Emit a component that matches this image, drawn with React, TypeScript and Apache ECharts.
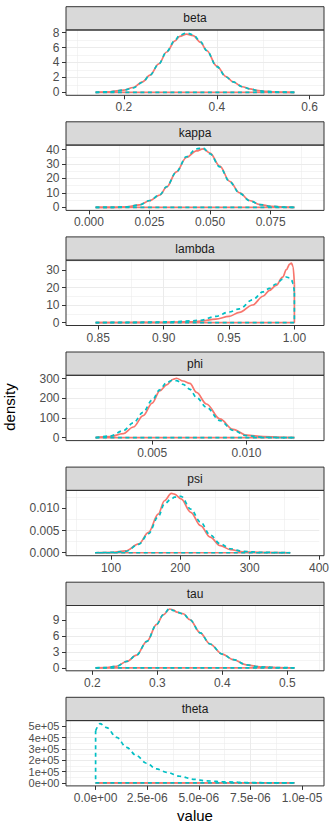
import React, { useEffect, useRef } from "react";
import * as echarts from "echarts";

// ---------- data ----------
const panelNames = ["beta", "kappa", "lambda", "phi", "psi", "tau", "theta"];

const betaX = [0.139, 0.17, 0.2, 0.22, 0.24, 0.256, 0.275, 0.292, 0.31, 0.32, 0.335, 0.349, 0.365, 0.378, 0.4, 0.42, 0.435, 0.455, 0.471, 0.49, 0.507, 0.53, 0.567];
const betaRed = [0, 0.08, 0.3, 0.65, 1.4, 2.3, 3.8, 5.4, 6.9, 7.5, 7.8, 7.6, 6.7, 5.6, 3.5, 2.1, 1.4, 0.75, 0.45, 0.22, 0.12, 0.04, 0];
const betaCyan = [0, 0.08, 0.3, 0.6, 1.35, 2.3, 3.8, 5.45, 7.0, 7.65, 7.95, 7.7, 6.8, 5.6, 3.45, 2.05, 1.4, 0.75, 0.45, 0.22, 0.12, 0.04, 0];

const kappaX = [0.00275, 0.01, 0.0155, 0.021, 0.025, 0.0293, 0.032, 0.0361, 0.0402, 0.0444, 0.0471, 0.05, 0.054, 0.0581, 0.0622, 0.0663, 0.0705, 0.0751, 0.08, 0.0848];
const kappaRed = [0, 0.1, 0.45, 1.8, 4.6, 8.6, 14, 24.5, 34.5, 39, 40.5, 37.5, 28.5, 18, 10, 4.8, 2, 0.8, 0.2, 0];
const kappaCyan = [0, 0.1, 0.45, 1.8, 4.8, 8.8, 14.3, 24.5, 35, 40.5, 41, 37, 28, 17.7, 9.8, 4.7, 2, 0.8, 0.2, 0];

const lambdaX = [0.848, 0.87, 0.89, 0.907, 0.92, 0.928, 0.94, 0.95, 0.958, 0.968, 0.976, 0.981, 0.986, 0.991, 0.9939, 0.9964, 0.9977, 0.999, 1.0];
const lambdaRed = [0, 0.02, 0.08, 0.2, 0.45, 0.75, 2, 3.5, 5.8, 10, 15, 18.4, 21.2, 25.9, 30.2, 33.3, 33.9, 32, 21.8];
const lambdaCyan = [0, 0.05, 0.2, 0.45, 0.9, 1.3, 3.5, 6, 7.8, 13, 17.5, 19.5, 22, 24.8, 26, 25.5, 24.6, 22.2, 17];

const phiX = [0.002, 0.00276, 0.00346, 0.004, 0.00452, 0.005, 0.0054, 0.00576, 0.00611, 0.00629, 0.00664, 0.007, 0.00735, 0.00788, 0.00859, 0.00929, 0.01, 0.01088, 0.01177, 0.01254];
const phiRed = [0, 5, 20, 54, 112, 176, 238, 268, 297, 302, 288, 276, 230, 171, 95, 42, 13, 5, 2, 0];
const phiCyan = [0, 8, 35, 75, 129, 191, 243, 280, 293, 290, 271, 246, 204, 154, 87, 37, 10, 2, 0.5, 0];

const psiX = [76.9, 102, 121, 140, 154, 168, 177, 187, 191.5, 201, 215, 229, 243, 257.5, 272, 290.5, 319, 358.5];
const psiRed = [0, 0.00007, 0.0004, 0.002, 0.0046, 0.0087, 0.0117, 0.01336, 0.0132, 0.0121, 0.0091, 0.0061, 0.0035, 0.0016, 0.0007, 0.0002, 0.00007, 0];
const psiCyan = [0, 0.00007, 0.0003, 0.0019, 0.0043, 0.0081, 0.011, 0.0121, 0.0125, 0.0127, 0.0098, 0.0069, 0.004, 0.002, 0.0009, 0.0003, 0.00007, 0];

const tauX = [0.205, 0.222, 0.237, 0.253, 0.268, 0.284, 0.299, 0.309, 0.319, 0.325, 0.33, 0.34, 0.35, 0.366, 0.381, 0.4, 0.417, 0.437, 0.458, 0.484, 0.511];
const tauRed = [0, 0.06, 0.3, 1.2, 2.4, 5.0, 8.2, 10.0, 11.1, 10.9, 10.5, 10.2, 9.1, 6.6, 4.5, 2.6, 1.55, 0.56, 0.19, 0.06, 0];
const tauCyan = [0, 0.06, 0.3, 1.2, 2.4, 5.0, 8.2, 10.0, 11.2, 10.8, 10.5, 10.2, 9.1, 6.6, 4.5, 2.6, 1.55, 0.56, 0.19, 0.06, 0];

const thetaRedX = [0, 9.63e-6];
const thetaRed = [0, 0];
const thetaCyanX = [0, 2.1e-7, 5.3e-7, 1.02e-6, 1.5e-6, 1.98e-6, 2.47e-6, 2.95e-6, 3.44e-6, 4.08e-6, 4.73e-6, 5.37e-6, 6.34e-6, 7.47e-6, 8.5e-6, 9.63e-6];
const thetaCyan = [4.6e5, 5.25e5, 4.9e5, 4.03e5, 3.15e5, 2.41e5, 1.74e5, 1.24e5, 0.94e5, 5.9e4, 3.2e4, 1.8e4, 9e3, 3e3, 1e3, 0];

// tick values and labels
const betaXTicks = [0.2, 0.4, 0.6];
const betaXLabels = ["0.2", "0.4", "0.6"];
const betaYTicks = [0, 2, 4, 6, 8];
const betaYLabels = ["0", "2", "4", "6", "8"];

const kappaXTicks = [0, 0.025, 0.05, 0.075];
const kappaXLabels = ["0.000", "0.025", "0.050", "0.075"];
const kappaYTicks = [0, 10, 20, 30, 40];
const kappaYLabels = ["0", "10", "20", "30", "40"];

const lambdaXTicks = [0.85, 0.9, 0.95, 1.0];
const lambdaXLabels = ["0.85", "0.90", "0.95", "1.00"];
const lambdaYTicks = [0, 10, 20, 30];
const lambdaYLabels = ["0", "10", "20", "30"];

const phiXTicks = [0.005, 0.01];
const phiXLabels = ["0.005", "0.010"];
const phiYTicks = [0, 100, 200, 300];
const phiYLabels = ["0", "100", "200", "300"];

const psiXTicks = [100, 200, 300, 400];
const psiXLabels = ["100", "200", "300", "400"];
const psiYTicks = [0, 0.005, 0.01];
const psiYLabels = ["0.000", "0.005", "0.010"];

const tauXTicks = [0.2, 0.3, 0.4, 0.5];
const tauXLabels = ["0.2", "0.3", "0.4", "0.5"];
const tauYTicks = [0, 3, 6, 9];
const tauYLabels = ["0", "3", "6", "9"];

const thetaXTicks = [0, 2.5e-6, 5e-6, 7.5e-6, 1e-5];
const thetaXLabels = ["0.0e+00", "2.5e-06", "5.0e-06", "7.5e-06", "1.0e-05"];
const thetaYTicks = [0, 1e5, 2e5, 3e5, 4e5, 5e5];
const thetaYLabels = ["0e+00", "1e+05", "2e+05", "3e+05", "4e+05", "5e+05"];

const xLabelLabel = "value";
const yLabelLabel = "density";

// ---------- assembly ----------
type Panel = {
  name: string;
  redX: number[]; red: number[];
  cyanX: number[]; cyan: number[];
  xTicks: number[]; xLabels: string[];
  yTicks: number[]; yLabels: string[];
};

const panels: Panel[] = [
  { name: panelNames[0], redX: betaX, red: betaRed, cyanX: betaX, cyan: betaCyan, xTicks: betaXTicks, xLabels: betaXLabels, yTicks: betaYTicks, yLabels: betaYLabels },
  { name: panelNames[1], redX: kappaX, red: kappaRed, cyanX: kappaX, cyan: kappaCyan, xTicks: kappaXTicks, xLabels: kappaXLabels, yTicks: kappaYTicks, yLabels: kappaYLabels },
  { name: panelNames[2], redX: lambdaX, red: lambdaRed, cyanX: lambdaX, cyan: lambdaCyan, xTicks: lambdaXTicks, xLabels: lambdaXLabels, yTicks: lambdaYTicks, yLabels: lambdaYLabels },
  { name: panelNames[3], redX: phiX, red: phiRed, cyanX: phiX, cyan: phiCyan, xTicks: phiXTicks, xLabels: phiXLabels, yTicks: phiYTicks, yLabels: phiYLabels },
  { name: panelNames[4], redX: psiX, red: psiRed, cyanX: psiX, cyan: psiCyan, xTicks: psiXTicks, xLabels: psiXLabels, yTicks: psiYTicks, yLabels: psiYLabels },
  { name: panelNames[5], redX: tauX, red: tauRed, cyanX: tauX, cyan: tauCyan, xTicks: tauXTicks, xLabels: tauXLabels, yTicks: tauYTicks, yLabels: tauYLabels },
  { name: panelNames[6], redX: thetaRedX, red: thetaRed, cyanX: thetaCyanX, cyan: thetaCyan, xTicks: thetaXTicks, xLabels: thetaXLabels, yTicks: thetaYTicks, yLabels: thetaYLabels },
];

const RED = "#F8766D";
const CYAN = "#00BFC4";
const FONT = "'Liberation Sans', Arial, Helvetica, sans-serif";
const L = 66;
const W = 258;
const TOP0 = 30;
const STEP = 115.1;
const H = 65.3;
const STRIP = 23.3;
const EXPAND_X = 0.149;
const EXPAND_Y = 0.05;
const LINE_W = 1.7;
const DASH = [4, 3.5];

const step = (t: number[]) => Number((t[1] - t[0]).toPrecision(8));

const fmt = (ticks: number[], labels: string[], interval: number) => (v: number) => {
  const idx = ticks.findIndex((t) => Math.abs(t - v) <= Math.abs(interval) * 1e-6);
  return idx >= 0 ? labels[idx] : "";
};

function makeAxis(kind: "x" | "y", i: number, min: number, max: number, ticks: number[], labels: string[]) {
  const interval = step(ticks);
  // pixel spacing between labelled ticks; shrink the font a touch when they are packed tight
  const spacing = ((kind === "x" ? W : H) * interval) / (max - min);
  const fontSize = kind === "y" && spacing < 12.5 ? 11 : 12;
  return {
    type: "value",
    gridIndex: i,
    position: kind === "x" ? "bottom" : "left",
    min,
    max,
    minInterval: interval,
    maxInterval: interval,
    splitNumber: 4,
    axisLine: { show: false, onZero: false },
    axisTick: { show: true, length: 4, lineStyle: { color: "#333333", width: 1 }, customValues: ticks },
    axisLabel: {
      show: true,
      formatter: fmt(ticks, labels, interval),
      color: "#4D4D4D",
      fontSize,
      fontFamily: FONT,
      margin: kind === "x" ? 6 : 6.5,
      hideOverlap: false,
    },
    splitLine: { show: true, showMinLine: false, showMaxLine: false, lineStyle: { color: "#EBEBEB", width: 1 } },
    minorTick: { show: false, splitNumber: 2 },
    minorSplitLine: { show: true, lineStyle: { color: "#EBEBEB", width: 0.55 } },
  };
}

function buildOption() {
  const grids: any[] = [];
  const xAxes: any[] = [];
  const yAxes: any[] = [];
  const series: any[] = [];
  const graphics: any[] = [];

  panels.forEach((p, i) => {
    const top = TOP0 + STEP * i;
    grids.push({ left: L, top, width: W, height: H, containLabel: false });

    const allX = [...p.redX, ...p.cyanX];
    const x0 = Math.min(...allX);
    const x1 = Math.max(...allX);
    const dx = (x1 - x0) * EXPAND_X;
    const ymax = Math.max(...p.red, ...p.cyan);

    xAxes.push(makeAxis("x", i, x0 - dx, x1 + dx, p.xTicks, p.xLabels));
    yAxes.push(makeAxis("y", i, -ymax * EXPAND_Y, ymax * (1 + EXPAND_Y), p.yTicks, p.yLabels));

    const addCurve = (xs: number[], ys: number[], color: string, type: any) => {
      const n = xs.length;
      const curve = xs.map((x, k) => [x, ys[k]]);
      const closure = [[xs[n - 1], ys[n - 1]], [xs[n - 1], 0], [xs[0], 0], [xs[0], ys[0]]];
      const base = {
        type: "line",
        xAxisIndex: i,
        yAxisIndex: i,
        symbol: "none",
        showSymbol: false,
        silent: true,
        lineStyle: { color, width: LINE_W, type },
        itemStyle: { color },
      };
      series.push({ ...base, data: curve, smooth: 0.35, smoothMonotone: "x" });
      series.push({ ...base, data: closure, smooth: false });
    };
    addCurve(p.redX, p.red, RED, "solid");
    addCurve(p.cyanX, p.cyan, CYAN, DASH);

    // strip
    graphics.push({
      type: "rect",
      z: 100,
      shape: { x: L, y: top - STRIP, width: W, height: STRIP },
      style: { fill: "#D9D9D9", stroke: "#333333", lineWidth: 1 },
    });
    graphics.push({
      type: "text",
      z: 101,
      x: L + W / 2,
      y: top - STRIP / 2,
      style: {
        text: p.name,
        fill: "#1A1A1A",
        fontSize: 12,
        fontFamily: FONT,
        align: "center",
        verticalAlign: "middle",
        textAlign: "center",
        textVerticalAlign: "middle",
      },
    });
    // panel border
    graphics.push({
      type: "rect",
      z: 100,
      shape: { x: L, y: top, width: W, height: H },
      style: { fill: "transparent", stroke: "#333333", lineWidth: 1 },
    });
  });

  graphics.push({
    type: "text",
    z: 101,
    x: 9,
    y: 407,
    rotation: Math.PI / 2,
    style: {
      text: yLabelLabel,
      fill: "#000000",
      fontSize: 15,
      fontFamily: FONT,
      align: "center",
      verticalAlign: "middle",
      textAlign: "center",
      textVerticalAlign: "middle",
    },
  });
  graphics.push({
    type: "text",
    z: 101,
    x: L + W / 2,
    y: 815,
    style: {
      text: xLabelLabel,
      fill: "#000000",
      fontSize: 15,
      fontFamily: FONT,
      align: "center",
      verticalAlign: "middle",
      textAlign: "center",
      textVerticalAlign: "middle",
    },
  });

  return {
    animation: false,
    backgroundColor: "#FFFFFF",
    grid: grids,
    xAxis: xAxes,
    yAxis: yAxes,
    series,
    graphic: graphics,
  };
}

export default function App() {
  const ref = useRef<HTMLDivElement>(null);
  useEffect(() => {
    if (!ref.current) return;
    const chart = echarts.init(ref.current, null, { renderer: "svg" });
    chart.setOption(buildOption() as any);
    return () => chart.dispose();
  }, []);
  return (
    <div
      ref={ref}
      style={{ position: "absolute", left: 0, top: 0, width: 332, height: 830, background: "#fff" }}
    />
  );
}
